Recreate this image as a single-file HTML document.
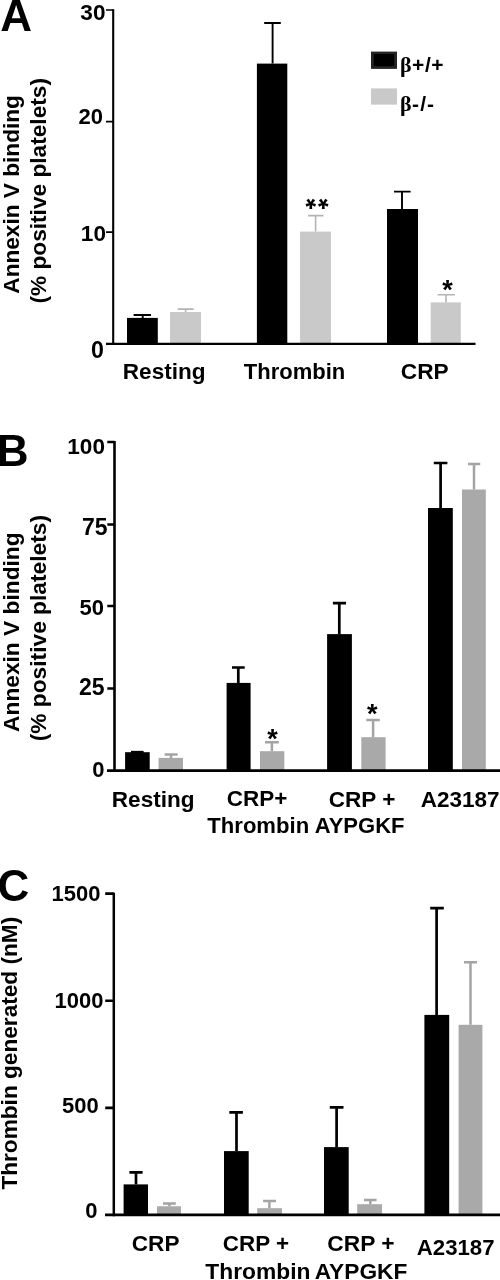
<!DOCTYPE html>
<html><head><meta charset="utf-8"><title>Figure</title>
<style>
html,body{margin:0;padding:0;background:#fff;width:500px;height:1280px;overflow:hidden}
svg{display:block;filter:grayscale(1)}
text{font-family:"Liberation Sans",sans-serif;font-weight:bold;fill:#000}
.ax{stroke:#000;fill:none}
.g1{fill:#c9c9c9}
.g2{fill:#a9a9a9}
.eb{stroke:#000;fill:none}
.ea{stroke:#b4b4b4;fill:none}
.ec{stroke:#a4a4a4;fill:none}
</style></head>
<body>
<svg width="500" height="1280" viewBox="0 0 500 1280">
<rect width="500" height="1280" fill="#fff"/>

<!-- ================= PANEL A ================= -->
<text x="0.3" y="30.6" font-size="44">A</text>
<g font-size="22">
<text x="105.5" y="20" text-anchor="end" font-size="22.6">30</text>
<text x="103" y="124" text-anchor="end">20</text>
<text x="106" y="241" text-anchor="end" font-size="22.6">10</text>
<text x="104" y="358.4" text-anchor="end" font-size="23.2">0</text>
</g>
<!-- y title A -->
<g font-size="22.5">
<text transform="translate(19.3 293.7) rotate(-90)" textLength="198.6" lengthAdjust="spacingAndGlyphs">Annexin V binding</text>
<text transform="translate(45.8 303.6) rotate(-90)" textLength="225.6" lengthAdjust="spacingAndGlyphs">(% positive platelets)</text>
</g>
<!-- bars A -->
<g>
<rect x="127" y="317.9" width="30.8" height="25.8" fill="#000"/>
<rect x="170" y="312" width="31" height="31.7" class="g1"/>
<rect x="256.9" y="63.6" width="30.4" height="280.2" fill="#000"/>
<rect x="300" y="231.6" width="31" height="112.1" class="g1"/>
<rect x="387" y="209" width="31" height="134.7" fill="#000"/>
<rect x="430.7" y="302.4" width="30.1" height="41.3" class="g1"/>
</g>
<g class="eb" stroke-width="1.9">
<path d="M142.7 318V315M133.6 315H151"/>
<path d="M272.6 63.5V23M264.2 23H280.8"/>
<path d="M402 209V191.6M394 191.6H410.6"/>
</g>
<g class="ea" stroke-width="1.6">
<path d="M185.6 312V309.1M177.6 309.1H193.7"/>
<path d="M315.6 231.6V215.6M308 215.6H323.6"/>
<path d="M446 302.4V294.7M437.6 294.7H454.9"/>
</g>
<text x="305.5" y="218" font-size="27" letter-spacing="2" transform="matrix(1 0 0 -1 0 408)">**</text>
<text x="442.3" y="299.3" font-size="27">*</text>
<!-- legend -->
<rect x="371" y="51.6" width="26" height="17.3" fill="#242424"/><rect x="373.8" y="54" width="20.4" height="12.2" fill="#000"/>
<rect x="371" y="88.4" width="26" height="16.2" class="g1"/>
<text x="400" y="72.3" font-size="21"><tspan font-family="Liberation Serif" font-size="22">β</tspan><tspan dx="0.5" textLength="31.5" lengthAdjust="spacing">+/+</tspan></text>
<text x="400" y="110.8" font-size="21"><tspan font-family="Liberation Serif" font-size="22">β</tspan><tspan dx="0.5" textLength="22" lengthAdjust="spacing">-/-</tspan></text>
<!-- x labels A -->
<g font-size="22">
<text x="122.80" y="379" textLength="82.76" lengthAdjust="spacingAndGlyphs">Resting</text>
<text x="243.80" y="378.5" textLength="101.45" lengthAdjust="spacingAndGlyphs">Thrombin</text>
<text x="400.80" y="379.3" textLength="47.94" lengthAdjust="spacingAndGlyphs">CRP</text>
</g>

<!-- ================= PANEL B ================= -->
<text x="-3.2" y="466.2" font-size="44">B</text>
<g font-size="22">
<text x="105" y="454.1" text-anchor="end" font-size="22.6">100</text>
<text x="107.5" y="534.7" text-anchor="end" font-size="23">75</text>
<text x="104" y="615" text-anchor="end">50</text>
<text x="104.5" y="695.3" text-anchor="end" font-size="23">25</text>
<text x="104.5" y="776.9" text-anchor="end">0</text>
</g>
<g font-size="22.5">
<text transform="translate(19.3 731.9) rotate(-90)" textLength="199.5" lengthAdjust="spacingAndGlyphs">Annexin V binding</text>
<text transform="translate(45.8 741.3) rotate(-90)" textLength="226.3" lengthAdjust="spacingAndGlyphs">(% positive platelets)</text>
</g>
<g>
<rect x="125.1" y="752.2" width="24.6" height="18.3" fill="#000"/>
<rect x="158.6" y="757.9" width="24.4" height="12.6" class="g2"/>
<rect x="226.6" y="682.9" width="24" height="87.6" fill="#000"/>
<rect x="260" y="751.2" width="24.3" height="19.3" class="g2"/>
<rect x="327.1" y="634.1" width="24.8" height="136.4" fill="#000"/>
<rect x="361.3" y="737.2" width="24.3" height="33.3" class="g2"/>
<rect x="428" y="508" width="24.8" height="262.5" fill="#000"/>
<rect x="462" y="489.5" width="23.8" height="281" class="g2"/>
</g>
<g class="eb" stroke-width="2.7">
<path d="M131 752.2H143.6"/>
<path d="M238.3 682.9V667.5M232 667.5H244.7"/>
<path d="M339.3 634.1V603.1M332.9 603.1H346"/>
<path d="M440.6 508V463M433.8 463H447.4"/>
</g>
<g class="ec" stroke-width="2.5">
<path d="M171.1 757.9V754.4M164.6 754.4H177.6"/>
<path d="M271.9 751.2V742.2M265 742.2H278.8"/>
<path d="M373.1 737.2V720M366.3 720H379.8"/>
<path d="M474 489.5V464M468 464H480.2"/>
</g>
<text x="267.3" y="748" font-size="27">*</text>
<text x="366.9" y="722.5" font-size="27">*</text>
<g font-size="22">
<text x="111.80" y="806.6" textLength="82.76" lengthAdjust="spacingAndGlyphs">Resting</text>
<text x="226.80" y="806.1" textLength="60.55" lengthAdjust="spacingAndGlyphs">CRP+</text>
<text x="207.30" y="833" textLength="101.85" lengthAdjust="spacingAndGlyphs">Thrombin</text>
<text x="328.80" y="806.6" textLength="66.65" lengthAdjust="spacingAndGlyphs">CRP +</text>
<text x="314.80" y="833.4" textLength="89.66" lengthAdjust="spacingAndGlyphs">AYPGKF</text>
<text x="420.80" y="806.6" textLength="78.74" lengthAdjust="spacingAndGlyphs">A23187</text>
</g>

<!-- ================= PANEL C ================= -->
<text x="-2.4" y="900.8" font-size="44">C</text>
<g font-size="22">
<text x="100.5" y="901.2" text-anchor="end">1500</text>
<text x="103.5" y="1007.5" text-anchor="end">1000</text>
<text x="98.8" y="1112.5" text-anchor="end">500</text>
<text x="97.6" y="1218" text-anchor="end">0</text>
</g>
<g font-size="22.5">
<text transform="translate(16.8 1189.6) rotate(-90)" textLength="272.8" lengthAdjust="spacingAndGlyphs">Thrombin generated (nM)</text>
</g>
<g>
<rect x="123.6" y="1184.4" width="24.4" height="30.6" fill="#000"/>
<rect x="157" y="1206.3" width="24" height="8.7" class="g2"/>
<rect x="224" y="1151.1" width="24.7" height="63.9" fill="#000"/>
<rect x="257.2" y="1208.2" width="24.8" height="6.8" class="g2"/>
<rect x="324" y="1147.1" width="24.7" height="67.9" fill="#000"/>
<rect x="357.2" y="1204.2" width="24.8" height="10.8" class="g2"/>
<rect x="424.4" y="1014.9" width="24.8" height="200.1" fill="#000"/>
<rect x="458.6" y="1024.8" width="23.8" height="190.2" class="g2"/>
</g>
<g class="eb" stroke-width="2.7">
<path d="M136 1184.4V1172.4M129.4 1172.4H142.6"/>
<path d="M236.5 1151.1V1112.4M229.3 1112.4H242.9"/>
<path d="M336.6 1147.1V1107.4M329.8 1107.4H343.5"/>
<path d="M436.6 1014.9V908.2M430.2 908.2H443.8"/>
</g>
<g class="ec" stroke-width="2.5">
<path d="M169.4 1206.3V1203.6M163 1203.6H175.8"/>
<path d="M269.4 1208.2V1201M263.1 1201H276"/>
<path d="M370.3 1204.2V1200M364 1200H376.6"/>
<path d="M470.5 1024.8V962.3M464 962.3H477"/>
</g>
<g font-size="22">
<text x="131.80" y="1251.2" textLength="47.70" lengthAdjust="spacingAndGlyphs">CRP</text>
<text x="222.80" y="1251.4" textLength="66.26" lengthAdjust="spacingAndGlyphs">CRP +</text>
<text x="205.30" y="1279" textLength="105.10" lengthAdjust="spacingAndGlyphs">Thrombin</text>
<text x="327.30" y="1251.4" textLength="67.29" lengthAdjust="spacingAndGlyphs">CRP +</text>
<text x="314.80" y="1279" textLength="92.51" lengthAdjust="spacingAndGlyphs">AYPGKF</text>
<text x="416.80" y="1254.6" textLength="77.69" lengthAdjust="spacingAndGlyphs">A23187</text>
</g>
<!-- axes on top -->
<g class="ax">
<path d="M113.2 9.2V344.9" stroke-width="2.1"/>
<path d="M106 10H113.2M106 121.6H113.2M106 232.2H113.2" stroke-width="1.7"/>
<path d="M106 343.9H475.5" stroke-width="2.1"/>
</g>
<g class="ax">
<path d="M114.5 441.1V771.8" stroke-width="2.6"/>
<path d="M107.3 442.1H114.5M107.3 524.5H114.5M107.3 605.9H114.5M107.3 688.4H114.5" stroke-width="2.5"/>
<path d="M107 770.6H500" stroke-width="2.7"/>
</g>
<g class="ax">
<path d="M113.8 892.7V1216.2" stroke-width="2.5"/>
<path d="M105.2 893.6H113.8M105.2 1000.8H113.8M105.2 1107.9H113.8" stroke-width="2.6"/>
<path d="M105 1214.9H500" stroke-width="2.6"/>
</g>
</svg>
</body></html>
